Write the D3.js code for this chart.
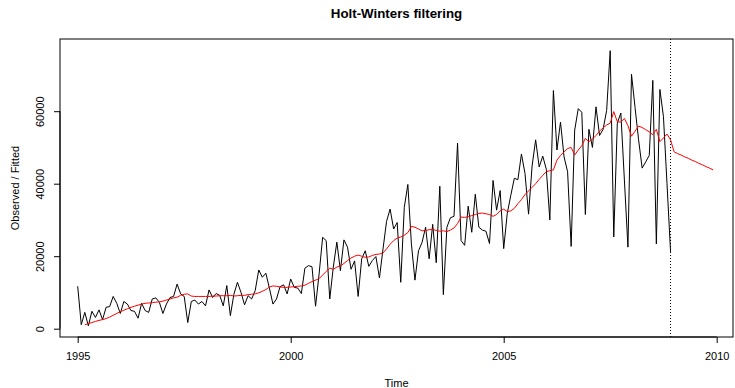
<!DOCTYPE html>
<html><head><meta charset="utf-8">
<script src="https://cdn.jsdelivr.net/npm/d3@7"></script>
<style>
body{margin:0;background:#fff;}
text{font-family:"Liberation Sans",Arial,sans-serif;fill:#000;}
</style></head>
<body>
<svg id="c" width="735" height="388"></svg>
<script>
// Observed monthly series, Jan 1995 .. Dec 2008
const startYear = 1995;
const observed = [
  11700, 1100, 4500, 800, 4800, 3100, 5200, 2500, 5900, 6100, 8900, 7000,
  4200, 7500, 6800, 5000, 4800, 2900, 7000, 5000, 4500, 8200, 8500, 7300,
  4200, 6800, 8600, 8900, 12300, 9600, 8900, 1700, 7500, 7900, 6800, 7500,
  6300, 10700, 8600, 9700, 9200, 6300, 11900, 3600, 9500, 12800, 10000, 6600,
  9100, 8200, 10500, 16200, 14200, 15300, 11200, 6800, 8200, 11600, 12100, 9600,
  13700, 11400, 11200, 9700, 16700, 17400, 17100, 6200, 15100, 25200, 24300, 8200,
  17000, 23900, 16000, 24500, 22500, 16400, 18700, 8900, 19300, 21500, 17200, 18800,
  19900, 14000, 22000, 29600, 33000, 27500, 29300, 12800, 33500, 39800, 23400, 13400,
  21500, 23800, 28000, 19300, 28800, 18200, 39300, 9400, 28000, 30600, 31000, 51200,
  24300, 23000, 33800, 26600, 37100, 28000, 27200, 26900, 23500, 40900, 32700, 38100,
  22100, 31800, 36800, 41500, 41100, 48200, 42800, 31600, 44900, 52100, 44600, 47600,
  44000, 30000, 65700, 49300, 57000, 47400, 43300, 22700, 54800, 60700, 59700, 31500,
  55000, 50000, 61200, 53300, 55000, 60200, 76700, 25300, 56700, 59500, 41000, 22500,
  70200, 61000, 52100, 44300, 46000, 47800, 68500, 23400, 66000, 58500, 40000, 21200
];
// Fitted values (start at Mar 1995)
const fittedStart = 1995 + 2/12;
const fitted = [
  1100, 1400, 1700, 2000, 2300, 2500, 2800, 3200, 3700, 4200,
  4700, 5100, 5500, 5900, 6200, 6500, 6800, 7000, 7100, 7200, 7300, 7400,
  7600, 7900, 8200, 8500, 8700, 9200, 9500, 9600, 9000, 8900, 8900, 8900,
  8900, 8900, 9000, 9000, 9100, 9100, 9100, 9200, 9000, 9100, 9200, 9200,
  9400, 9500, 9600, 9900, 10300, 10800, 11500, 11800, 11700, 11500, 11400, 11400,
  11500, 11600, 11700, 11800, 12000, 12500, 13000, 13400, 13800, 14800, 15800, 16700,
  16400, 17000, 17300, 18000, 18800, 19500, 20000, 20300, 20000, 19700, 19800, 20200,
  20500, 20600, 20900, 22000, 23300, 24300, 25000, 25300, 25800, 26500, 28200, 28000,
  27500, 27000, 27100, 27300, 27400, 27100, 26900, 27000, 26800, 27200, 27800, 29000,
  30800, 30700, 30900, 31200, 31500, 31800, 31900, 31700, 31500, 31000, 31500, 32500,
  33000, 32300, 32500, 33200, 34500, 35600, 37000, 38000, 39000, 40000, 41200, 42300,
  43300, 43600, 43800, 46500, 47800, 48800, 49700, 50000, 47900, 49300, 50500, 52500,
  51600, 52300, 53300, 54500, 55400, 56200, 56700, 59900, 57100, 57000, 58000, 56000,
  53100, 54500, 55900, 55500, 54900, 54300, 53500, 55000, 51600, 52600, 53700, 52100
];
// 12-month predictions from Jan 2009
const predStart = 2009;
const predicted = [48800, 48300, 47900, 47400, 47000, 46500, 46100, 45600, 45200, 44700, 44300, 43800];
const xTicks = [1995, 2000, 2005, 2010];
const yTicks = [0, 20000, 40000, 60000];
const titleText = "Holt-Winters filtering";
const xLabel = "Time";
const yLabel = "Observed / Fitted";

const svg = d3.select("#c");
const box = {l: 60, r: 733, t: 39, b: 337};
const x = d3.scaleLinear().domain([1995, 2010]).range([77.7, 716.7]);
const y = d3.scaleLinear().domain([0, 60000]).range([328.7, 111.2]);

const obsPts = observed.map((v, i) => [startYear + i/12, v]);
const fitPts = fitted.map((v, i) => [fittedStart + i/12, v])
  .concat(predicted.map((v, i) => [predStart + i/12, v]));
const line = d3.line().x(d => x(d[0])).y(d => y(d[1]));

svg.append("path").attr("d", line(obsPts)).attr("fill", "none")
  .attr("stroke", "#000").attr("stroke-width", 1);
svg.append("path").attr("d", line(fitPts)).attr("fill", "none")
  .attr("stroke", "#ff0000").attr("stroke-width", 1);

// dotted vertical line at end of observed data
const lastT = startYear + (observed.length - 1)/12;
svg.append("line").attr("x1", x(lastT)).attr("x2", x(lastT))
  .attr("y1", box.t).attr("y2", box.b)
  .attr("stroke", "#000").attr("stroke-width", 1).attr("stroke-dasharray", "1,2");

// box
svg.append("rect").attr("x", box.l).attr("y", box.t)
  .attr("width", box.r - box.l).attr("height", box.b - box.t)
  .attr("fill", "none").attr("stroke", "#000").attr("stroke-width", 1);

// x axis
const xa = svg.append("g").attr("transform", `translate(0,${box.b})`)
  .call(d3.axisBottom(x).tickValues(xTicks).tickFormat(d3.format("d")).tickSize(6).tickPadding(9));
xa.select(".domain").attr("d", `M${x(1995)},0H${x(2010)}`);
xa.selectAll("text").attr("font-size", 11).attr("fill", "#000").style("font-family", "Liberation Sans, Arial, sans-serif");

// y axis
const ya = svg.append("g").attr("transform", `translate(${box.l},0)`)
  .call(d3.axisLeft(y).tickValues(yTicks).tickFormat(d3.format("d")).tickSize(6));
ya.select(".domain").attr("d", `M0,${y(0)}V${y(60000)}`);
ya.selectAll(".tick text").attr("x", null).attr("dy", null)
  .attr("text-anchor", "middle")
  .attr("transform", "translate(-16,0) rotate(-90)")
  .attr("font-size", 11).attr("fill", "#000").style("font-family", "Liberation Sans, Arial, sans-serif");

// titles
svg.append("text").attr("x", (box.l + box.r)/2).attr("y", 18).attr("text-anchor", "middle")
  .attr("font-size", 13.3).attr("font-weight", "bold").text(titleText);
svg.append("text").attr("x", (box.l + box.r)/2).attr("y", 387).attr("text-anchor", "middle")
  .attr("font-size", 11).text(xLabel);
svg.append("text").attr("transform", `translate(19,${(box.t + box.b)/2}) rotate(-90)`)
  .attr("text-anchor", "middle").attr("font-size", 11).text(yLabel);
</script>
</body></html>
